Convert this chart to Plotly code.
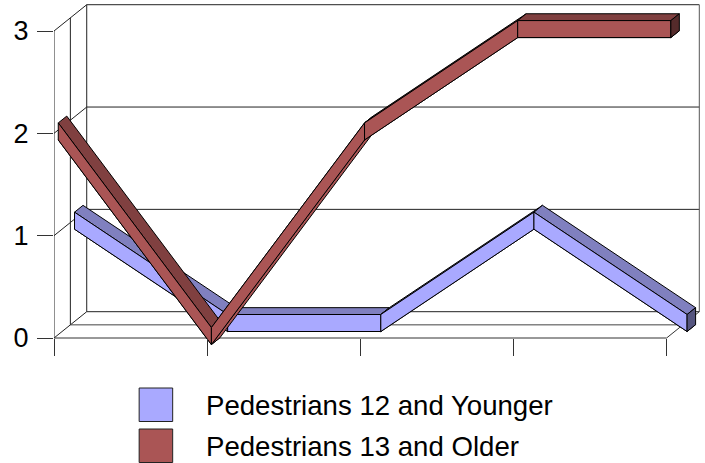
import plotly.graph_objects as go

# ---- data ----
category_positions = [0, 1, 2, 3, 4]
younger_values = [1, 0, 0, 1, 0]
older_values = [2, 0, 2, 3, 3]
series_names = ["Pedestrians 12 and Younger", "Pedestrians 13 and Older"]
y_ticks = [0, 1, 2, 3]

# ---- style ----
FONT = "Liberation Sans"
WALL = "#222222"
BLUE = dict(front="#A9A9FF", top="#8080BF", end="#55557F", under="#A9A9FF")
RED = dict(front="#AA5555", top="#804040", end="#552B2B", under="#AA5555")

# ---- pseudo-3D projection, expressed in axis units ----
PX_X, PX_Y = 153.05, 102.33        # pixels per category / per value
DEPTH_X, DEPTH_Y = 32.7 / PX_X, 26.3 / PX_Y   # full chart depth in axis units
RIB_UP, RIB_DOWN = 7.0 / PX_Y, 10.0 / PX_Y    # ribbon extent around the value
RIB_DEPTH = 0.26                  # ribbon depth as a fraction of chart depth
WIDTH, HEIGHT = 705, 463
BASE_PX = 338                     # pixel row of value 0
BELOW_PX = 8                      # room under value 0 for the ribbon tips
ML, MT, MR = 54.4, 3, 3
MB = HEIGHT - BASE_PX - BELOW_PX


def proj(x, y, d):
    return x + d * DEPTH_X, y + d * DEPTH_Y


fig = go.Figure()


def line(points, color=WALL, width=1):
    fig.add_trace(go.Scatter(
        x=[p[0] for p in points], y=[p[1] for p in points], mode="lines",
        line=dict(color=color, width=width), showlegend=False,
        hoverinfo="skip", cliponaxis=False))


def face(points, color, width=1):
    xs = [p[0] for p in points] + [points[0][0]]
    ys = [p[1] for p in points] + [points[0][1]]
    fig.add_trace(go.Scatter(
        x=xs, y=ys, mode="lines", fill="toself", fillcolor=color,
        line=dict(color="#000000", width=width), showlegend=False,
        hoverinfo="skip", cliponaxis=False))


# walls and gridlines
last = category_positions[-1]
for t in y_ticks:
    line([proj(0, t, 0), proj(0, t, 1), proj(last, t, 1)])
line([proj(0, y_ticks[0], 0), proj(0, y_ticks[-1], 0)])
line([proj(0, y_ticks[0], 0.5), proj(0, y_ticks[-1], 0.5)])
line([proj(0, y_ticks[0], 1), proj(0, y_ticks[-1], 1)])
line([proj(last, y_ticks[0], 1), proj(last, y_ticks[-1], 1)], color="#555555")
line([proj(0, 0, 0), proj(last, 0, 0), proj(last, 0, 1)], color="#333333")
line([proj(0, 0, 0.5), proj(last, 0, 0.5)], color="#444444")


def ribbon(values, d0, colors):
    d1 = d0 + RIB_DEPTH

    def pt(i, edge, d):
        off = RIB_UP if edge == "top" else -RIB_DOWN
        return proj(category_positions[i], values[i] + off, d)

    for i in range(len(values) - 1):
        j = i + 1
        face([pt(i, "bot", d0), pt(i, "bot", d1), pt(j, "bot", d1), pt(j, "bot", d0)],
             colors["under"])
        face([pt(i, "top", d0), pt(i, "top", d1), pt(j, "top", d1), pt(j, "top", d0)],
             colors["top"])
        face([pt(i, "top", d0), pt(j, "top", d0), pt(j, "bot", d0), pt(i, "bot", d0)],
             colors["front"])
    k = len(values) - 1
    face([pt(k, "top", d0), pt(k, "top", d1), pt(k, "bot", d1), pt(k, "bot", d0)],
         colors["end"])


ribbon(younger_values, 0.627, BLUE)
ribbon(older_values, 0.13, RED)

plot_w = WIDTH - ML - MR
plot_h = HEIGHT - MT - MB
fig.update_layout(
    width=WIDTH, height=HEIGHT, autosize=False,
    margin=dict(l=ML, r=MR, t=MT, b=MB, pad=0),
    paper_bgcolor="white", plot_bgcolor="white", showlegend=False,
    font=dict(family=FONT, color="black"),
    xaxis=dict(range=[0, plot_w / PX_X], tickvals=category_positions,
               ticktext=[""] * len(category_positions), ticks="outside",
               ticklen=17, tickcolor="#333333", tickwidth=1,
               anchor="free", position=BELOW_PX / plot_h,
               showgrid=False, zeroline=False, showline=False, fixedrange=True),
    yaxis=dict(range=[-BELOW_PX / PX_Y, (plot_h - BELOW_PX) / PX_Y], tickvals=y_ticks,
               ticks="outside", ticklen=16, tickcolor="#333333", tickwidth=1,
               tickfont=dict(size=27, family=FONT, color="black"),
               ticklabelstandoff=3,
               showgrid=False, zeroline=False, showline=False, fixedrange=True),
)

# legend
legend_rows = [(388, BLUE["front"], 405), (429, RED["front"], 446)]
for name, (top, col, mid) in zip(series_names, legend_rows):
    fig.add_shape(type="rect", xref="paper", yref="paper",
                  x0=(139.5 - ML) / plot_w, x1=(173 - ML) / plot_w,
                  y0=(HEIGHT - MB - top) / plot_h, y1=(HEIGHT - MB - top - 33.5) / plot_h,
                  fillcolor=col, line=dict(color="#222222", width=1))
    fig.add_annotation(xref="paper", yref="paper", x=(204 - ML) / plot_w,
                       y=(HEIGHT - MB - mid) / plot_h, xanchor="left", yanchor="middle",
                       text=name, showarrow=False,
                       font=dict(size=27.6, family=FONT, color="black"))

fig.write_html("out.html", config=dict(displayModeBar=False),
               post_script="document.body.style.margin='0';document.body.style.overflow='hidden';")
